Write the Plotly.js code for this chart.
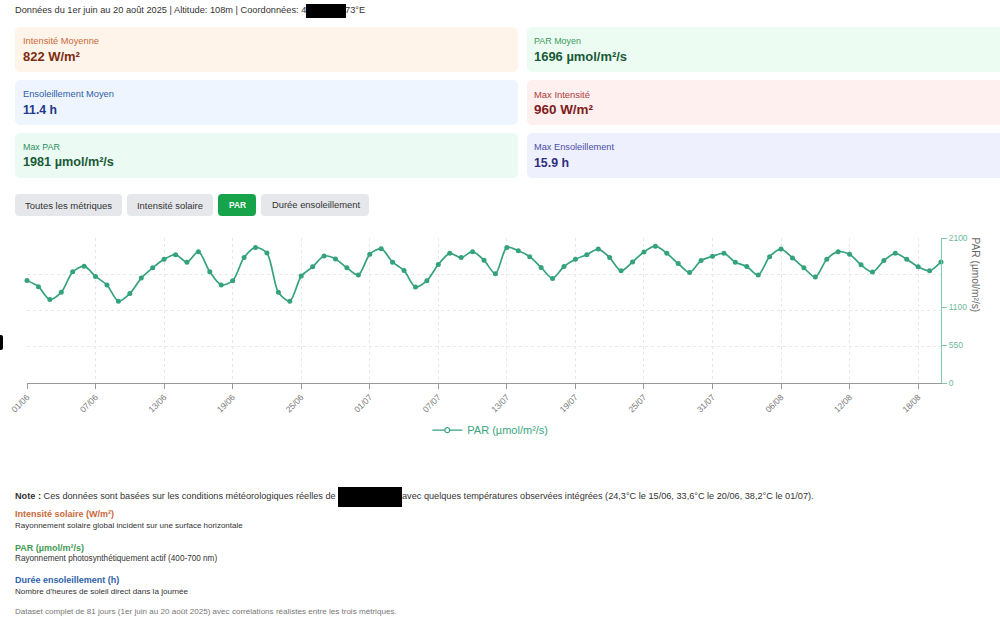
<!DOCTYPE html>
<html lang="fr">
<head>
<meta charset="utf-8">
<script src="https://cdn.plot.ly/plotly-3.0.1.min.js"></script>
<style>
  html, body { margin:0; padding:0; width:1000px; height:644px; overflow:hidden; background:#fff;
    font-family: "Liberation Sans", Arial, "Noto Sans", sans-serif; color:#333; }
  .tx { position:absolute; white-space:nowrap; line-height:1.2; }
  .redact { position:absolute; background:#000; }
  .card { position:absolute; height:45px; border-radius:5px; }
  .lbl { font-size:10px; }
  .val { font-size:14px; font-weight:700; }
  .btn { position:absolute; top:194px; height:22px; border-radius:4px; background:#e5e7eb; }
  .btxt { font-size:10px; color:#333; }
  .t { font-weight:700; font-size:10px; }
  .d { font-size:8px; color:#333; }
</style>
</head>
<body>
<!-- header -->
<div id="hdr" class="tx" style="left:15px;font-size:10px;" data-w="291" data-cy="11">Données du 1er juin au 20 août 2025 | Altitude: 108m | Coordonnées: 4</div>
<div class="redact" style="left:306px;top:4px;width:40px;height:14px;"></div>
<div id="hdr2" class="tx" style="left:345px;font-size:10px;top:4px;">73°E</div>

<!-- cards -->
<div class="card" style="left:15px;top:27px;width:503px;background:#fff4e9;"></div>
<div class="card" style="left:527px;top:27px;width:480px;background:#ecfcf3;"></div>
<div class="card" style="left:15px;top:80px;width:503px;background:#eef5fe;"></div>
<div class="card" style="left:527px;top:80px;width:480px;background:#fdf0ef;"></div>
<div class="card" style="left:15px;top:133px;width:503px;background:#ebfbf3;"></div>
<div class="card" style="left:527px;top:133px;width:480px;background:#eef0fd;"></div>

<div class="tx lbl" style="left:23px;color:#c8693a;" data-w="76" data-cy="41.5">Intensité Moyenne</div>
<div class="tx val" style="left:23px;color:#7c2d12;" data-w="57" data-cy="56.5">822 W/m²</div>
<div class="tx lbl" style="left:534px;color:#3f9a60;" data-w="47" data-cy="41.5">PAR Moyen</div>
<div class="tx val" style="left:534px;color:#1a5a37;" data-w="93" data-cy="56.5">1696 µmol/m²/s</div>
<div class="tx lbl" style="left:23px;color:#2f5fa8;" data-w="91" data-cy="94.5">Ensoleillement Moyen</div>
<div class="tx val" style="left:23px;color:#1e3a8a;" data-w="34" data-cy="110">11.4 h</div>
<div class="tx lbl" style="left:534px;color:#b23b3b;" data-w="56" data-cy="94.5">Max Intensité</div>
<div class="tx val" style="left:534px;color:#7f1d1d;" data-w="59" data-cy="110">960 W/m²</div>
<div class="tx lbl" style="left:23px;color:#2f8f5f;" data-w="37" data-cy="147.5">Max PAR</div>
<div class="tx val" style="left:23px;color:#1a5a37;" data-w="91" data-cy="163">1981 µmol/m²/s</div>
<div class="tx lbl" style="left:534px;color:#4b4fa8;" data-w="80" data-cy="147.5">Max Ensoleillement</div>
<div class="tx val" style="left:534px;color:#312e81;" data-w="35" data-cy="163">15.9 h</div>

<!-- buttons -->
<div class="btn" style="left:15px;width:107px;"></div>
<div class="btn" style="left:127px;width:86px;"></div>
<div class="btn" style="left:218px;width:38px;background:#16a34a;"></div>
<div class="btn" style="left:261px;width:108px;"></div>
<div class="tx btxt" style="left:25px;" data-w="87" data-cy="205.5">Toutes les métriques</div>
<div class="tx btxt" style="left:137px;" data-w="66" data-cy="205.5">Intensité solaire</div>
<div class="tx btxt" style="left:229px;color:#fff;font-weight:700;" data-w="17" data-cy="205.5">PAR</div>
<div class="tx btxt" style="left:272px;" data-w="88" data-cy="205.5">Durée ensoleillement</div>

<div class="redact" style="left:0;top:335px;width:3px;height:15px;border-radius:0 2px 2px 0;"></div>

<div id="chart" style="position:absolute;left:0;top:225px;width:1000px;height:225px;"></div>

<!-- notes -->
<div class="tx" style="left:15px;font-size:9.5px;" data-w="321" data-cy="496.5"><b>Note :</b> Ces données sont basées sur les conditions météorologiques réelles de</div>
<div class="redact" style="left:338px;top:487px;width:64px;height:20px;"></div>
<div class="tx" style="left:402px;font-size:9.5px;" data-w="411" data-cy="496.5">avec quelques températures observées intégrées (24,3°C le 15/06, 33,6°C le 20/06, 38,2°C le 01/07).</div>
<div class="tx t" style="left:15px;color:#c8693a;" data-w="99" data-cy="514.5">Intensité solaire (W/m²)</div>
<div class="tx d" style="left:15px;" data-w="228" data-cy="526">Rayonnement solaire global incident sur une surface horizontale</div>
<div class="tx t" style="left:15px;color:#3f9a55;" data-w="69" data-cy="548">PAR (µmol/m²/s)</div>
<div class="tx d" style="left:15px;" data-w="202" data-cy="559">Rayonnement photosynthétiquement actif (400-700 nm)</div>
<div class="tx t" style="left:15px;color:#2f62a8;" data-w="104" data-cy="580.5">Durée ensoleillement (h)</div>
<div class="tx d" style="left:15px;" data-w="173" data-cy="591.5">Nombre d'heures de soleil direct dans la journée</div>
<div class="tx d" style="left:15px;color:#777;" data-w="381" data-cy="612">Dataset complet de 81 jours (1er juin au 20 août 2025) avec corrélations réalistes entre les trois métriques.</div>

<script>
// Daily dates 01/06 .. 20/08 (81 days)
const startDate = new Date(2025, 5, 1);
const nDays = 81;
const dates = [];
for (let i = 0; i < nDays; i++) {
  const d = new Date(startDate.getFullYear(), startDate.getMonth(), startDate.getDate() + i);
  dates.push(String(d.getDate()).padStart(2, '0') + '/' + String(d.getMonth() + 1).padStart(2, '0'));
}
// PAR values (µmol/m²/s)
const parValues = [
  1486, 1395, 1209, 1314, 1610, 1692, 1543, 1419, 1185, 1295, 1519,
  1668, 1792, 1859, 1749, 1902, 1610, 1419, 1481, 1816, 1964,
  1883, 1314, 1185, 1548, 1682, 1840, 1797, 1668, 1563, 1864,
  1945, 1749, 1630, 1390, 1481, 1716, 1878, 1816, 1902, 1778,
  1582, 1964, 1916, 1830, 1673, 1515, 1687, 1792, 1859, 1940,
  1816, 1625, 1754, 1897, 1981, 1878, 1730, 1601, 1773, 1835,
  1878, 1749, 1687, 1563, 1830, 1940, 1811, 1668, 1534, 1792,
  1902, 1864, 1711, 1606, 1773, 1878, 1792, 1682, 1625, 1754
];
const xTickLabels = ['01/06','07/06','13/06','19/06','25/06','01/07','07/07','13/07','19/07','25/07','31/07','06/08','12/08','18/08'];
const yTickValues = [0, 550, 1100, 2100];
const seriesName = 'PAR (µmol/m²/s)';

const green = '#34a27a';
const trace = {
  x: dates, y: parValues, type: 'scatter', mode: 'lines+markers', name: seriesName,
  line: { color: green, width: 1.7, shape: 'spline', smoothing: 0.8 },
  marker: { color: green, size: 5 }, showlegend: false,
  cliponaxis: false, yaxis: 'y', hoverinfo: 'x+y'
};
const legendTrace = {
  x: [null], y: [null], type: 'scatter', mode: 'lines+markers', name: seriesName,
  line: { color: green, width: 1.2 }, marker: { color: '#fff', size: 5, symbol: 'circle', line: { color: green, width: 1.2 } },
  yaxis: 'y', hoverinfo: 'skip'
};
const gridTrace = { x: [dates[0]], y: [0], yaxis: 'y2', mode: 'markers', marker: {opacity: 0}, showlegend: false, hoverinfo: 'skip' };

const layout = {
  width: 1000, height: 225,
  margin: { l: 27, r: 59, t: 13, b: 67, autoexpand: false },
  paper_bgcolor: 'rgba(0,0,0,0)', plot_bgcolor: 'rgba(0,0,0,0)',
  font: { family: '"Liberation Sans", Arial, sans-serif', color: '#666', size: 9 },
  showlegend: true,
  legend: { orientation: 'h', x: 0.438, xanchor: 'left', y: -0.325, yanchor: 'middle',
    font: { color: '#3aa57d', size: 11 }, itemwidth: 30 },
  xaxis: {
    type: 'category', range: [0, nDays - 1], automargin: false,
    tickmode: 'array', tickvals: xTickLabels, ticktext: xTickLabels, tickangle: -45,
    showline: true, linecolor: '#9a9a9a', linewidth: 1,
    ticks: 'outside', ticklen: 5, tickcolor: '#9a9a9a',
    showgrid: true, gridcolor: '#e8e8e8', griddash: 'dot', gridwidth: 1,
    tickfont: { size: 8.5, color: '#777' }, zeroline: false, fixedrange: true
  },
  yaxis: {
    side: 'right', range: [0, 2100], tickmode: 'array', tickvals: yTickValues, automargin: false,
    showline: true, linecolor: '#7ccdb0', linewidth: 1,
    ticks: 'outside', ticklen: 5, tickcolor: '#7ccdb0',
    tickfont: { size: 8.5, color: '#6fb89c' },
    showgrid: false, zeroline: false, fixedrange: true
  },
  yaxis2: {
    overlaying: 'y', side: 'left', range: [0, 4], dtick: 1, showticklabels: false, automargin: false,
    showgrid: true, gridcolor: '#e8e8e8', griddash: 'dot', zeroline: false, showline: false, fixedrange: true
  },
  annotations: [{
    text: seriesName, xref: 'paper', yref: 'paper', x: 1, xshift: 34, xanchor: 'center',
    y: 1, yshift: 3, yanchor: 'top', textangle: 90, showarrow: false,
    font: { size: 10.2, color: '#666' }
  }]
};
Plotly.newPlot('chart', [gridTrace, trace, legendTrace], layout, { displayModeBar: false, staticPlot: true });

function fitAll() {
  document.querySelectorAll('[data-w]').forEach(el => {
    const target = parseFloat(el.dataset.w);
    let fs = parseFloat(getComputedStyle(el).fontSize);
    for (let k = 0; k < 3; k++) {
      const w = el.getBoundingClientRect().width;
      if (w > 0) { fs = fs * target / w; el.style.fontSize = fs + 'px'; }
    }
    const h = el.getBoundingClientRect().height;
    el.style.top = (parseFloat(el.dataset.cy) - h / 2) + 'px';
  });
  const hdr = document.getElementById('hdr'), hdr2 = document.getElementById('hdr2');
  hdr2.style.fontSize = hdr.style.fontSize;
  hdr2.style.top = hdr.style.top;
}
fitAll();
if (document.fonts && document.fonts.ready) document.fonts.ready.then(fitAll);
</script>
</body>
</html>
